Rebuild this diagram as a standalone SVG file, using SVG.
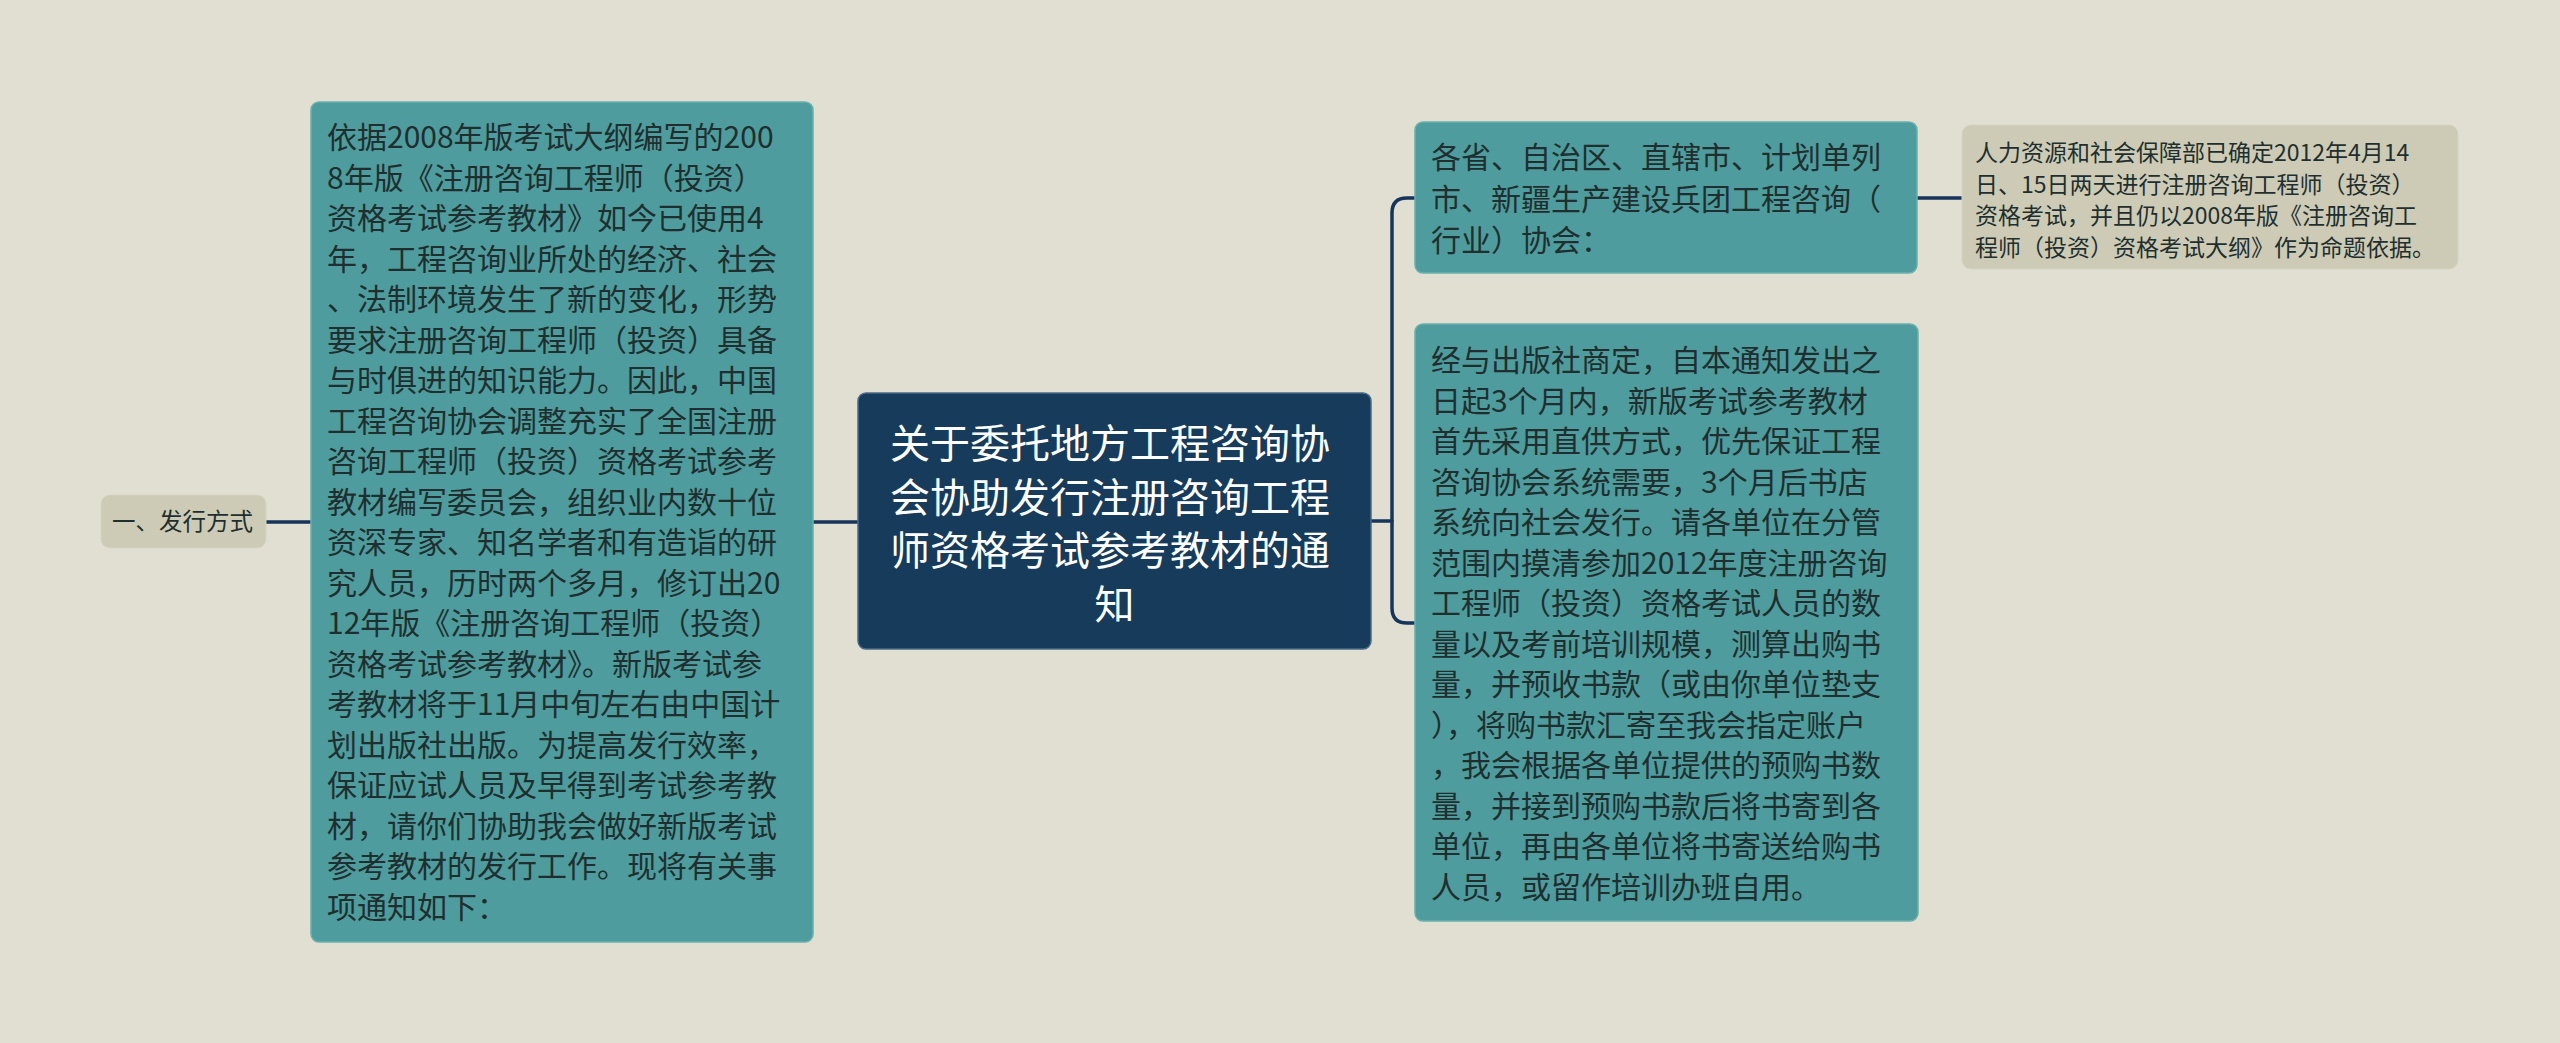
<svg xmlns="http://www.w3.org/2000/svg" width="2560" height="1043" viewBox="0 0 2560 1043">
<style>
.bg{fill:#e0dfd1}
.teal{fill:#4e9c9d;stroke:#6bb0b0;stroke-width:1.5}
.beige{fill:#cdcbb6;stroke:#d6d4c2;stroke-width:1}
.root{fill:#173b5b;stroke:#4a6b88;stroke-width:1.5}
.edge{fill:none;stroke:#17355a;stroke-width:3.5;stroke-linecap:round}
.t{font-family:"Noto Sans CJK SC","Noto Sans",sans-serif;fill:#1f2f2f}
.tw{font-family:"Noto Sans CJK SC","Noto Sans",sans-serif;fill:#ffffff}
</style>
<rect class="bg" x="0" y="0" width="2560" height="1043"/>
<g id="connectors">
<path class="edge" d="M266 522 H311"/>
<path class="edge" d="M813 522 H858"/>
<path class="edge" d="M1371 521 H1392"/>
<path class="edge" d="M1415 198 H1407 Q1392 198 1392 213 V608 Q1392 623 1407 623 H1415"/>
<path class="edge" d="M1917 198 H1962"/>
</g>
<g id="root">
<rect class="root" x="858" y="393" width="513" height="256" rx="8"/>
<text class="tw" font-size="40" text-anchor="middle">
<tspan x="1114.5" y="458">关于委托地方工程咨询协</tspan>
<tspan x="1114.5" y="511.5">会协助发行注册咨询工程</tspan>
<tspan x="1114.5" y="565">师资格考试参考教材的通</tspan>
<tspan x="1114.5" y="618.5">知</tspan>
</text>
</g>
<g id="node-method">
<rect class="beige" x="101" y="495" width="165" height="53" rx="9"/>
<text class="t" font-size="23.5" x="112" y="530">一、发行方式</text>
</g>
<g id="node-left-detail">
<rect class="teal" x="311" y="102" width="502" height="840" rx="8"/>
<text class="t" font-size="30">
<tspan x="327" y="148">依据2008年版考试大纲编写的200</tspan>
<tspan x="327" y="188.5">8年版《注册咨询工程师（投资）</tspan>
<tspan x="327" y="229">资格考试参考教材》如今已使用4</tspan>
<tspan x="327" y="269.5">年，工程咨询业所处的经济、社会</tspan>
<tspan x="327" y="310">、法制环境发生了新的变化，形势</tspan>
<tspan x="327" y="350.5">要求注册咨询工程师（投资）具备</tspan>
<tspan x="327" y="391">与时俱进的知识能力。因此，中国</tspan>
<tspan x="327" y="431.5">工程咨询协会调整充实了全国注册</tspan>
<tspan x="327" y="472">咨询工程师（投资）资格考试参考</tspan>
<tspan x="327" y="512.5">教材编写委员会，组织业内数十位</tspan>
<tspan x="327" y="553">资深专家、知名学者和有造诣的研</tspan>
<tspan x="327" y="593.5">究人员，历时两个多月，修订出20</tspan>
<tspan x="327" y="634">12年版《注册咨询工程师（投资）</tspan>
<tspan x="327" y="674.5">资格考试参考教材》。新版考试参</tspan>
<tspan x="327" y="715">考教材将于11月中旬左右由中国计</tspan>
<tspan x="327" y="755.5">划出版社出版。为提高发行效率，</tspan>
<tspan x="327" y="796">保证应试人员及早得到考试参考教</tspan>
<tspan x="327" y="836.5">材，请你们协助我会做好新版考试</tspan>
<tspan x="327" y="877">参考教材的发行工作。现将有关事</tspan>
<tspan x="327" y="917.5">项通知如下：</tspan>
</text>
</g>
<g id="node-associations">
<rect class="teal" x="1415" y="122" width="502" height="151" rx="8"/>
<text class="t" font-size="30">
<tspan x="1431" y="168">各省、自治区、直辖市、计划单列</tspan>
<tspan x="1431" y="209.5">市、新疆生产建设兵团工程咨询（</tspan>
<tspan x="1431" y="251">行业）协会：</tspan>
</text>
</g>
<g id="node-exam-note">
<rect class="beige" x="1962" y="125" width="496" height="144" rx="9"/>
<text class="t" font-size="23">
<tspan x="1975" y="161">人力资源和社会保障部已确定2012年4月14</tspan>
<tspan x="1975" y="192.5">日、15日两天进行注册咨询工程师（投资）</tspan>
<tspan x="1975" y="224">资格考试，并且仍以2008年版《注册咨询工</tspan>
<tspan x="1975" y="255.5">程师（投资）资格考试大纲》作为命题依据。</tspan>
</text>
</g>
<g id="node-right-detail">
<rect class="teal" x="1415" y="324" width="503" height="597" rx="8"/>
<text class="t" font-size="30">
<tspan x="1431" y="371">经与出版社商定，自本通知发出之</tspan>
<tspan x="1431" y="411.5">日起3个月内，新版考试参考教材</tspan>
<tspan x="1431" y="452">首先采用直供方式，优先保证工程</tspan>
<tspan x="1431" y="492.5">咨询协会系统需要，3个月后书店</tspan>
<tspan x="1431" y="533">系统向社会发行。请各单位在分管</tspan>
<tspan x="1431" y="573.5">范围内摸清参加2012年度注册咨询</tspan>
<tspan x="1431" y="614">工程师（投资）资格考试人员的数</tspan>
<tspan x="1431" y="654.5">量以及考前培训规模，测算出购书</tspan>
<tspan x="1431" y="695">量，并预收书款（或由你单位垫支</tspan>
<tspan x="1431" y="735.5">），将购书款汇寄至我会指定账户</tspan>
<tspan x="1431" y="776">，我会根据各单位提供的预购书数</tspan>
<tspan x="1431" y="816.5">量，并接到预购书款后将书寄到各</tspan>
<tspan x="1431" y="857">单位，再由各单位将书寄送给购书</tspan>
<tspan x="1431" y="897.5">人员，或留作培训办班自用。</tspan>
</text>
</g>
</svg>
